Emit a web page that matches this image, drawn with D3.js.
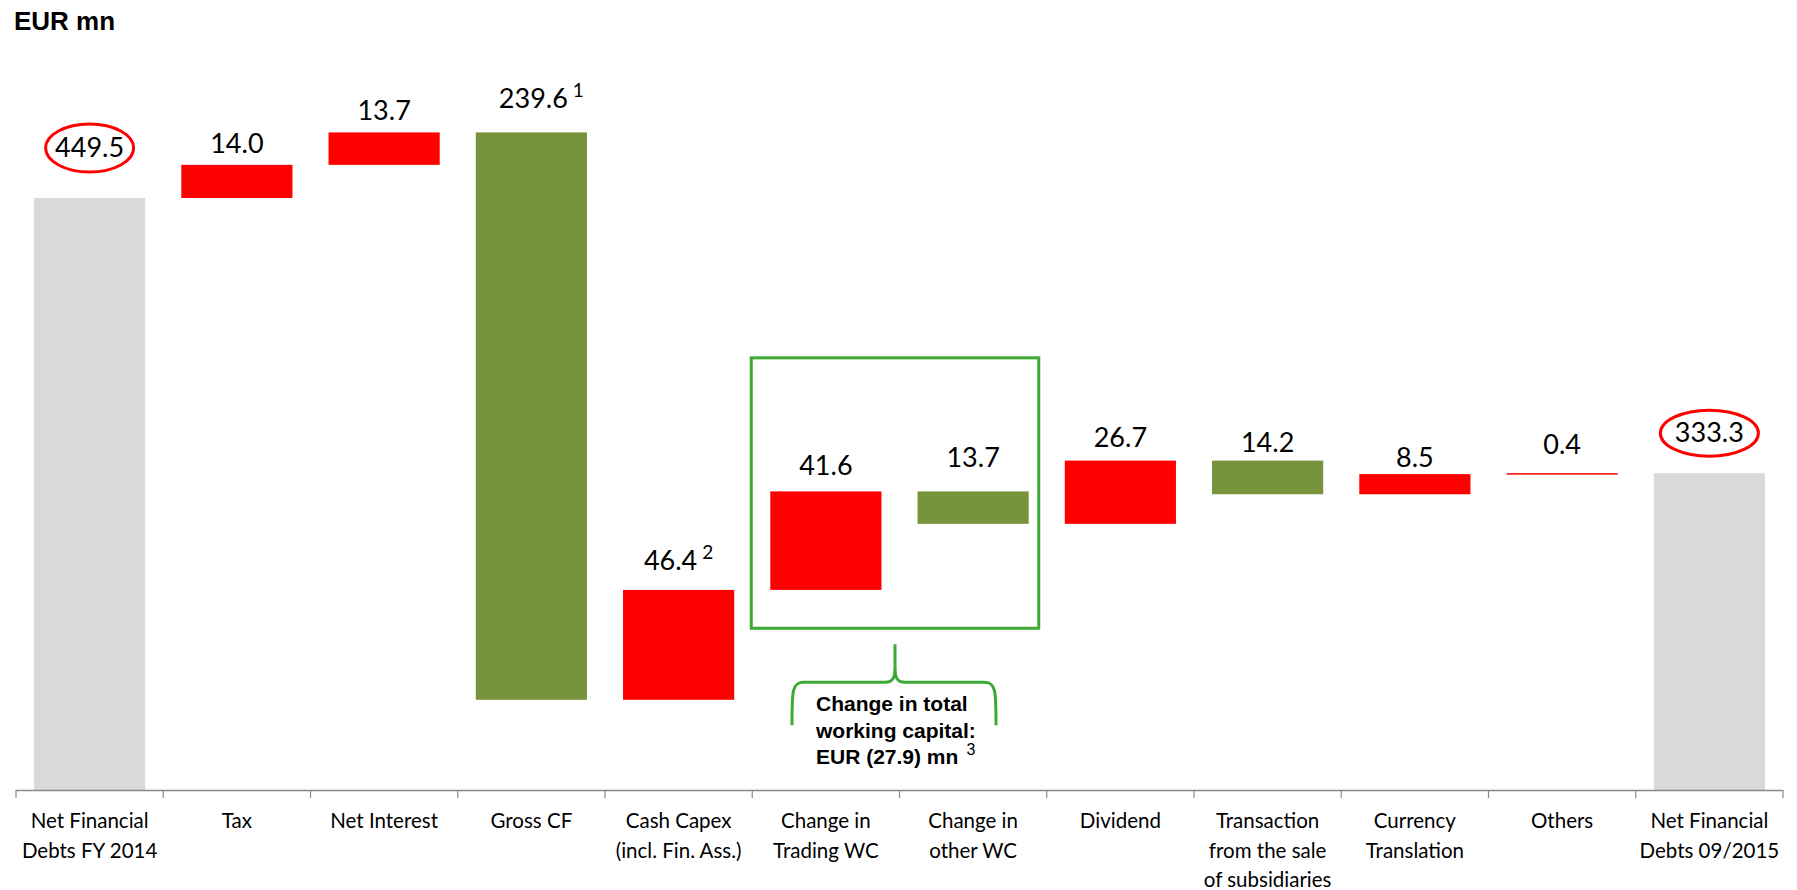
<!DOCTYPE html>
<html>
<head>
<meta charset="utf-8">
<script src="https://cdnjs.cloudflare.com/ajax/libs/d3/7.8.5/d3.min.js"></script>
<style>
  html, body { margin: 0; padding: 0; background: #fff; }
  svg { display: block; }
</style>
</head>
<body>
<div id="chart"></div>
<script>
// ---------------- DATA ----------------
const categories = [
  ["Net Financial", "Debts FY 2014"],
  ["Tax"],
  ["Net Interest"],
  ["Gross CF"],
  ["Cash Capex", "(incl. Fin. Ass.)"],
  ["Change in", "Trading WC"],
  ["Change in", "other WC"],
  ["Dividend"],
  ["Transaction", "from the sale", "of subsidiaries"],
  ["Currency", "Translation"],
  ["Others"],
  ["Net Financial", "Debts 09/2015"]
];
// signed change of net financial debt (totals are absolute levels)
const values = [449.5, 14.0, 13.7, -239.6, 46.4, 41.6, -13.7, 26.7, -14.2, 8.5, 0.4, 333.3];
const kinds  = ["total", "step", "step", "step", "step", "step", "step", "step", "step", "step", "step", "total"];
const valueLabels = ["449.5", "14.0", "13.7", "239.6", "46.4", "41.6", "13.7", "26.7", "14.2", "8.5", "0.4", "333.3"];
const footnotes   = ["", "", "", "1", "2", "", "", "", "", "", "", ""];
const circled     = [true, false, false, false, false, false, false, false, false, false, false, true];
const unitTitle = "EUR mn";
const wcNote = ["Change in total", "working capital:", "EUR (27.9) mn"];
const wcNoteFootnote = "3";
const axisBreakValue = 199.5;   // value at the (truncated) baseline
const axisTopValue = 449.5;

// ---------------- LAYOUT ----------------
const W = 1797, H = 890;
const baseY = 790, topY = 198;
const labelGap = [0, 12, 12, 24, 20, 16, 24, 14, 9, 7, 19, 0]; // label baseline distance above bar top
const labelDx  = [0, 0, 0, 10, 0, 0, 0, 0, 0, 0, 0, 0];
const colors = { total: "#D9D9D9", up: "#FF0000", down: "#77933C", box: "#3DAA35", axis: "#898989" };

// waterfall
let running = 0;
const bars = values.map((v, i) => {
  let lo, hi, fill;
  if (kinds[i] === "total") { lo = axisBreakValue; hi = v; running = v; fill = colors.total; }
  else {
    const start = running, end = running + v; running = end;
    lo = Math.min(start, end); hi = Math.max(start, end);
    fill = v >= 0 ? colors.up : colors.down;
  }
  return { i, lo, hi, fill };
});

const svg = d3.select("#chart").append("svg").attr("width", W).attr("height", H);

const x = d3.scaleBand().domain(d3.range(categories.length))
  .range([16, 1783]).paddingInner(0.245).paddingOuter(0.1225);
const y = d3.scaleLinear().domain([axisBreakValue, axisTopValue]).range([baseY, topY]);
const step = x.step();
const edge = i => x(i) - (step - x.bandwidth()) / 2;

// title
svg.append("text").attr("x", 14).attr("y", 30)
  .attr("font-family", "Liberation Sans, Arial, sans-serif").attr("font-weight", "bold")
  .attr("font-size", 26).attr("fill", "#000").text(unitTitle);

// bars
svg.selectAll("rect.bar").data(bars).join("rect").attr("class", "bar")
  .attr("x", d => x(d.i)).attr("width", x.bandwidth())
  .attr("y", d => y(d.hi))
  .attr("height", d => Math.max(1.5, y(d.lo) - y(d.hi)))
  .attr("fill", d => d.fill);

// axis
const axisG = svg.append("g");
axisG.append("line").attr("x1", 16).attr("x2", 1783).attr("y1", baseY + 0.5).attr("y2", baseY + 0.5)
  .attr("stroke", colors.axis).attr("stroke-width", 1.5);
const tickXs = d3.range(categories.length).map(edge).concat([edge(categories.length - 1) + step]);
axisG.selectAll("line.tick").data(tickXs).join("line").attr("class", "tick")
  .attr("x1", d => d).attr("x2", d => d).attr("y1", baseY).attr("y2", baseY + 8)
  .attr("stroke", colors.axis).attr("stroke-width", 1.2);

// category labels
const catG = svg.append("g").attr("font-family", "Lato, 'Open Sans', sans-serif").attr("font-size", 20.5).attr("fill", "#000");
categories.forEach((lines, i) => {
  const t = catG.append("text").attr("text-anchor", "middle").attr("x", x(i) + x.bandwidth() / 2);
  lines.forEach((ln, j) => t.append("tspan").attr("x", x(i) + x.bandwidth() / 2).attr("y", 828 + j * 29.5).text(ln));
});

// value labels
const valG = svg.append("g").attr("font-family", "Lato, 'Open Sans', sans-serif").attr("fill", "#000");
bars.forEach((d, i) => {
  const cx = x(i) + x.bandwidth() / 2;
  let by;
  if (circled[i]) by = y(d.hi) - (i === 0 ? 41 : 31);
  else by = y(d.hi) - labelGap[i];
  const t = valG.append("text").attr("text-anchor", "middle").attr("x", cx + labelDx[i]).attr("y", by).attr("font-size", 27);
  t.append("tspan").text(valueLabels[i]);
  if (footnotes[i]) {
    t.append("tspan").attr("dx", 5).attr("dy", -11).attr("font-size", 19).text(footnotes[i]);
  }
  if (circled[i]) {
    svg.append("ellipse").attr("cx", cx).attr("cy", by - 9).attr("rx", i === 0 ? 44 : 49).attr("ry", i === 0 ? 24 : 23)
      .attr("fill", "none").attr("stroke", "#FF0000").attr("stroke-width", 3);
  }
});

// working-capital box
const bx0 = edge(5) - 1, bx1 = edge(6) + step - 8;
const boxTop = y(382), boxBot = y(267.8);
svg.append("rect").attr("x", bx0).attr("y", boxTop).attr("width", bx1 - bx0).attr("height", boxBot - boxTop)
  .attr("fill", "none").attr("stroke", colors.box).attr("stroke-width", 3);

// brace
const mid = (bx0 + bx1) / 2;
const bl = mid - 103, br = mid + 101;
const bTop = boxBot + 16, bH = boxBot + 54, bBot = boxBot + 97;
const p = d3.path();
p.moveTo(bl, bBot);
p.bezierCurveTo(bl, bH + 8, bl, bH, bl + 12, bH);
p.lineTo(mid - 10, bH);
p.bezierCurveTo(mid - 2, bH, mid, bH - 4, mid, bH - 16);
p.lineTo(mid, bTop);
p.moveTo(mid, bH - 16);
p.bezierCurveTo(mid, bH - 4, mid + 2, bH, mid + 10, bH);
p.lineTo(br - 12, bH);
p.bezierCurveTo(br, bH, br, bH + 8, br, bBot);
svg.append("path").attr("d", p.toString()).attr("fill", "none").attr("stroke", colors.box).attr("stroke-width", 3);

// note text
const noteG = svg.append("text").attr("font-family", "Liberation Sans, Arial, sans-serif")
  .attr("font-weight", "bold").attr("font-size", 21).attr("fill", "#000");
wcNote.forEach((ln, j) => {
  noteG.append("tspan").attr("x", 816).attr("y", 711 + j * 26.5).text(ln);
});
noteG.append("tspan").attr("dx", 8).attr("dy", -9).attr("font-size", 16).attr("font-weight", "normal").text(wcNoteFootnote);
</script>
</body>
</html>
